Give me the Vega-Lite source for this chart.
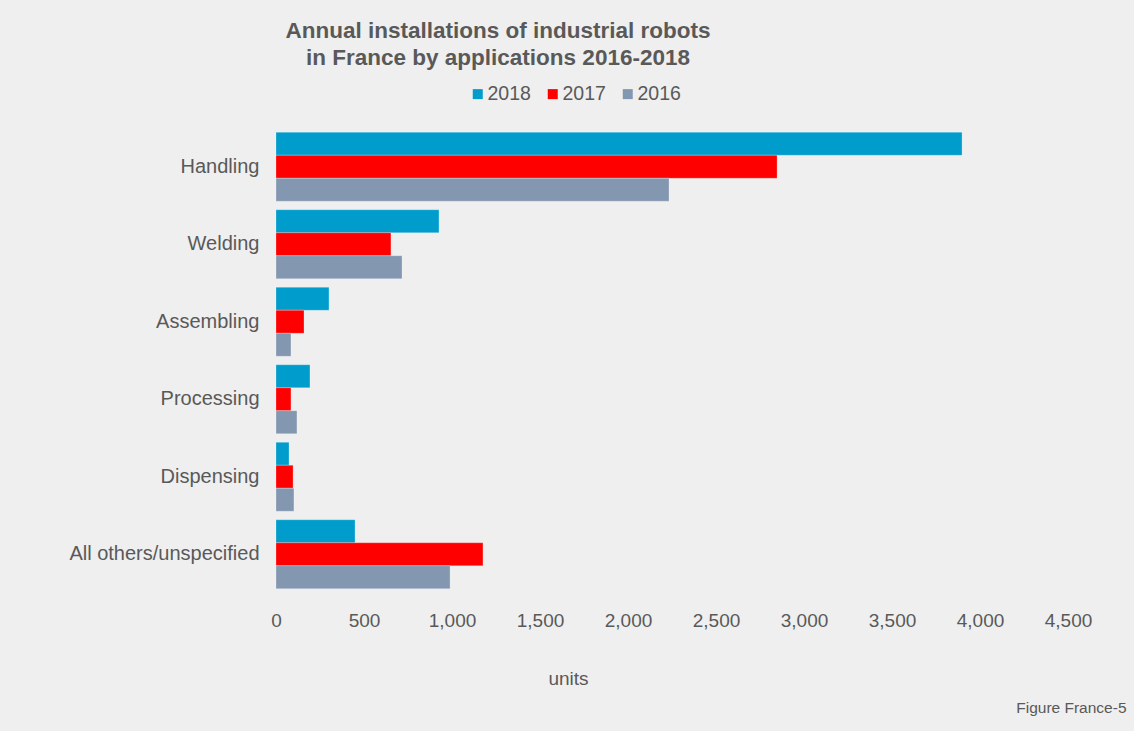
{
  "$schema": "https://vega.github.io/schema/vega-lite/v6.json",
  "autosize": {"type": "none"},
  "width": 792,
  "height": 465,
  "padding": {"left": 276, "top": 128, "right": 66, "bottom": 138},
  "background": "#efefef",
  "title": {
    "text": ["Annual installations of industrial robots", "in France by applications 2016-2018"],
    "anchor": "middle",
    "frame": "group",
    "dx": -174,
    "offset": 15,
    "fontSize": 22.5,
    "fontWeight": "bold",
    "font": "Liberation Sans",
    "color": "#595959",
    "lineHeight": 27
  },
  "data": {
    "values": [
      {"application": "Handling", "year": "2018", "units": 3898},
      {"application": "Handling", "year": "2017", "units": 2847},
      {"application": "Handling", "year": "2016", "units": 2233},
      {"application": "Welding", "year": "2018", "units": 926},
      {"application": "Welding", "year": "2017", "units": 653},
      {"application": "Welding", "year": "2016", "units": 716},
      {"application": "Assembling", "year": "2018", "units": 301},
      {"application": "Assembling", "year": "2017", "units": 159},
      {"application": "Assembling", "year": "2016", "units": 85},
      {"application": "Processing", "year": "2018", "units": 193},
      {"application": "Processing", "year": "2017", "units": 85},
      {"application": "Processing", "year": "2016", "units": 119},
      {"application": "Dispensing", "year": "2018", "units": 74},
      {"application": "Dispensing", "year": "2017", "units": 97},
      {"application": "Dispensing", "year": "2016", "units": 102},
      {"application": "All others/unspecified", "year": "2018", "units": 449},
      {"application": "All others/unspecified", "year": "2017", "units": 1176},
      {"application": "All others/unspecified", "year": "2016", "units": 989}
    ]
  },
  "mark": {"type": "bar", "stroke": "#ffffff", "strokeOpacity": 0.35, "strokeWidth": 0.7},
  "encoding": {
    "y": {
      "field": "application",
      "type": "nominal",
      "sort": ["Handling", "Welding", "Assembling", "Processing", "Dispensing", "All others/unspecified"],
      "scale": {"paddingInner": 0.11, "paddingOuter": 0.055},
      "axis": {
        "title": "Figure France-5",
        "titleAngle": 0,
        "titleAlign": "right",
        "titleBaseline": "middle",
        "titleX": 850,
        "titleY": 579,
        "titleFontSize": 15.5,
        "titleFontWeight": "normal",
        "titleFont": "Liberation Sans",
        "titleColor": "#595959",
        "labelFont": "Liberation Sans",
        "labelFontSize": 20,
        "labelColor": "#595959",
        "labelPadding": 17,
        "ticks": false,
        "domain": false,
        "grid": false,
        "labelLimit": 300
      }
    },
    "yOffset": {
      "field": "year",
      "type": "nominal",
      "sort": ["2018", "2017", "2016"],
      "scale": {"paddingInner": 0, "paddingOuter": 0}
    },
    "x": {
      "field": "units",
      "type": "quantitative",
      "scale": {"domain": [0, 4500], "nice": false},
      "axis": {
        "title": "units",
        "values": [0, 500, 1000, 1500, 2000, 2500, 3000, 3500, 4000, 4500],
        "format": ",d",
        "titleX": 292,
        "titleY": 85,
        "titleBaseline": "middle",
        "titleAnchor": null,
        "titleFont": "Liberation Sans",
        "titleFontSize": 19,
        "titleFontWeight": "normal",
        "titleColor": "#595959",
        "labelFont": "Liberation Sans",
        "labelFontSize": 19,
        "labelColor": "#595959",
        "labelPadding": 18,
        "labelFlush": false,
        "labelOverlap": false,
        "ticks": false,
        "domain": false,
        "grid": false
      }
    },
    "color": {
      "field": "year",
      "type": "nominal",
      "sort": ["2018", "2017", "2016"],
      "scale": {"domain": ["2018", "2017", "2016"], "range": ["#009DCC", "#FF0000", "#8497B0"]},
      "legend": {
        "title": null,
        "orient": "none",
        "direction": "horizontal",
        "legendX": 192,
        "legendY": -44,
        "symbolType": "square",
        "symbolSize": 100,
        "symbolStrokeWidth": 0,
        "labelFont": "Liberation Sans",
        "labelFontSize": 19.5,
        "labelColor": "#595959",
        "labelOffset": 0,
        "columnPadding": 12
      }
    }
  },
  "config": {
    "view": {"stroke": null}
  }
}
